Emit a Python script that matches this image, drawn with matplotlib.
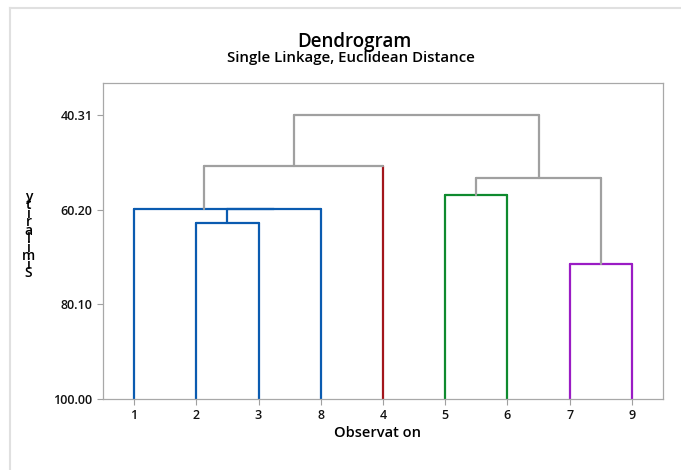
import matplotlib.pyplot as plt
from matplotlib.lines import Line2D

# leaves in dendrogram order
leaves = ["1", "2", "3", "8", "4", "5", "6", "7", "9"]
leaf_colors = ["#0a5bb0", "#0a5bb0", "#0a5bb0", "#0a5bb0", "#a3161c",
               "#0e8a2e", "#0e8a2e", "#9a1cc4", "#9a1cc4"]

# merges: cluster "cK" is the K-th merge (0-based)
merge_left = ["7", "2", "c1", "1", "5", "c4", "c3", "c6"]
merge_right = ["9", "3", "8", "c2", "6", "c0", "4", "c5"]
similarity = [71.6, 62.9, 59.9, 59.9, 57.1, 53.4, 50.9, 40.31]
merge_colors = ["#9a1cc4", "#0a5bb0", "#0a5bb0", "#0a5bb0", "#0e8a2e",
                "#a0a0a0", "#a0a0a0", "#a0a0a0"]

yticks = [40.31, 60.20, 80.10, 100.00]

plt.rcParams['font.family'] = ['Open Sans', 'DejaVu Sans']

fig = plt.figure(figsize=(6.81, 4.70), dpi=100)
ax = fig.add_axes([0.1512, 0.1511, 0.8224, 0.6723])

pos = {lab: i + 1 for i, lab in enumerate(leaves)}
height = {lab: 100.0 for lab in leaves}
lcol = dict(zip(leaves, leaf_colors))

for k, (a, b) in enumerate(zip(merge_left, merge_right)):
    s = similarity[k]
    c = merge_colors[k]
    for child in (a, b):
        vc = lcol[child] if child in lcol else c
        ax.plot([pos[child], pos[child]], [height[child], s], color=vc, lw=1.6,
                solid_capstyle='round')
    ax.plot([pos[a], pos[b]], [s, s], color=c, lw=1.6, solid_capstyle='round')
    name = "c%d" % k
    pos[name] = (pos[a] + pos[b]) / 2
    height[name] = s

ax.set_xlim(0.5, 9.5)
ax.set_ylim(100, 33.47)
ax.set_xticks(range(1, len(leaves) + 1))
ax.set_xticklabels(leaves, fontsize=9, fontweight='semibold')
ax.set_yticks(yticks)
ax.set_yticklabels(["%.2f" % v for v in yticks], fontsize=9, fontweight='semibold')
ax.tick_params(color="#a0a0a0", length=4, width=0.8, labelcolor="#111111")
for sp in ax.spines.values():
    sp.set_color("#a8a8a8")
    sp.set_linewidth(0.9)

ax.set_xlabel("Observat on", fontsize=10.5, fontweight='semibold', labelpad=3)
ax.xaxis.set_label_coords(0.49, -0.085)

fig.text(0.521, 0.911, "Dendrogram", ha='center', va='center', fontsize=13.5,
         fontweight='semibold')
fig.text(0.516, 0.876, "Single Linkage, Euclidean Distance", ha='center',
         va='center', fontsize=10.8, fontweight='semibold')

# stacked y label
fig.text(0.042, 0.50, "\n".join(reversed("Similarity")), ha='center',
         va='center', fontsize=10, fontweight='semibold', linespacing=0.5)

# outer frame lines
fig.add_artist(Line2D([0.015, 0.015], [0.0, 0.983], color="#e0e0e0", lw=1.5,
                      transform=fig.transFigure))
fig.add_artist(Line2D([0.015, 1.0], [0.983, 0.983], color="#e0e0e0", lw=1.5,
                      transform=fig.transFigure))

fig.savefig("out.png", dpi=100)
